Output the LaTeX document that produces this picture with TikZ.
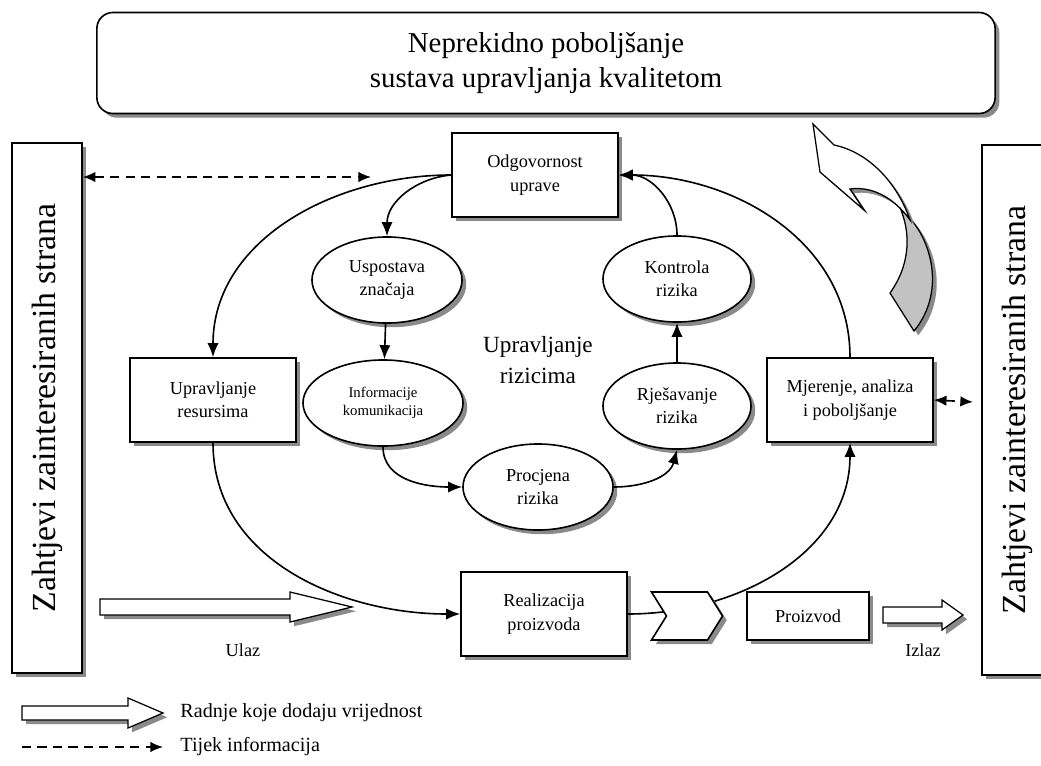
\documentclass[tikz,border=0pt]{standalone}
\usepackage{fontspec}
\setmainfont{Liberation Serif}
\usetikzlibrary{shapes.geometric, shapes.symbols, arrows.meta, shadows}
\definecolor{shadowgray}{HTML}{8A8A8A}
\definecolor{ribbongray}{HTML}{C2C2C2}

\begin{document}
\begin{tikzpicture}[
    x=0.025cm, y=0.025cm,
    line width=1.15pt,
    boxshadow/.style={drop shadow={shadow xshift=3pt, shadow yshift=-3pt, fill=shadowgray, opacity=1}},
    box/.style={draw, fill=white, boxshadow, minimum width=4.15cm, minimum height=2.1cm, align=center, font=\fontsize{13}{16.5}\selectfont},
    oval/.style={ellipse, draw, fill=white, boxshadow, minimum width=3.75cm, minimum height=2.15cm, inner sep=0pt, align=center, font=\fontsize{13}{16.5}\selectfont},
    sidebox/.style={draw, fill=white, boxshadow, minimum width=1.75cm, minimum height=13.25cm, font=\fontsize{24}{28}\selectfont},
    blockarrow/.style={draw, fill=white, line width=0.9pt, boxshadow},
    flow/.style={-{Latex[length=10pt, width=8pt]}},
    infoflow/.style={dash pattern=on 6.5pt off 4.5pt, {Latex[length=9pt, width=7.5pt]}-{Latex[length=9pt, width=7.5pt]}},
    tag/.style={font=\fontsize{13}{16}\selectfont}
]
    \useasboundingbox (0,0) rectangle (1041,-765);

    % Top: continual improvement
    \node[draw, fill=white, boxshadow, rounded corners=0.4cm, minimum width=22.45cm, minimum height=2.525cm,
          align=center, font=\fontsize{20.5}{25}\selectfont] (top) at (546,-63)
          {Neprekidno poboljšanje\\sustava upravljanja kvalitetom};

    % Interested parties
    \node[sidebox] (reqL) at (47,-408) {\rotatebox{90}{Zahtjevi zainteresiranih strana}};
    \node[sidebox] (reqR) at (1017,-410) {\rotatebox{90}{Zahtjevi zainteresiranih strana}};

    % Main process boxes
    \node[box] (odg) at (535,-175) {Odgovornost\\uprave};
    \node[box] (resursi) at (213,-400) {Upravljanje\\resursima};
    \node[box] (mjer) at (850,-400) {Mjerenje, analiza\\i poboljšanje};
    \node[box] (real) at (544,-614) {Realizacija\\proizvoda};
    \node[box, minimum width=3.05cm, minimum height=1.2cm] (proizvod) at (808,-616) {Proizvod};

    % Risk management cycle
    \node[oval] (uspostava) at (387,-280) {Uspostava\\značaja};
    \node[oval, minimum width=4cm, font=\fontsize{10.5}{13}\selectfont] (info) at (383,-403) {Informacije\\komunikacija};
    \node[oval] (procjena) at (538,-487) {Procjena\\rizika};
    \node[oval, minimum width=3.7cm] (rjes) at (677,-406) {Rješavanje\\rizika};
    \node[oval, minimum width=3.7cm] (kontrola) at (677,-279) {Kontrola\\rizika};
    \node[align=center, font=\fontsize{16.5}{22}\selectfont] (rizici) at (538,-360) {Upravljanje\\rizicima};

    % Cycle arrows
    \draw[flow] (uspostava) -- (info);
    \draw[flow] (info.south) to[out=-90, in=180] (procjena.west);
    \draw[flow] (procjena.east) to[out=0, in=-105] (rjes.south);
    \draw[flow] (rjes) -- (kontrola);
    \draw[flow] (kontrola.north) to[out=90, in=0] (odg.east);
    \draw[flow] (odg.west) to[out=185, in=90] (uspostava.north);

    % Process loop
    \draw[flow] (odg.west) to[out=180, in=90] (resursi.north);
    \draw[flow] (resursi.south) to[out=-90, in=180] (real.west);
    \draw[flow] (real.east) to[out=0, in=-90] (mjer.south);
    \draw[flow] (mjer.north) to[out=90, in=0] (odg.east);

    \node[signal, signal from=west, signal to=east, signal pointer angle=116, draw, fill=white, boxshadow,
          minimum width=1.775cm, minimum height=1.2cm, inner sep=0pt] (chev) at (687,-616) {};

    % Information flow
    \coordinate (infoEnd) at (371,-177);
    \coordinate (mjOut) at (973,-402);
    \draw[infoflow] (infoEnd -| reqL.east) -- (infoEnd);
    \draw[infoflow] (mjer.east) -- (mjOut);

    % Input / output
    \draw[blockarrow] (100,-599) -- (290,-599) -- (290,-592) -- (352,-607) -- (290,-622) -- (290,-615) -- (100,-615) -- cycle;
    \draw[blockarrow] (883,-607) -- (942,-607) -- (942,-600) -- (963,-615) -- (942,-630) -- (942,-623) -- (883,-623) -- cycle;
    \node[tag] (ulaz) at (243,-650) {Ulaz};
    \node[tag] (izlaz) at (923,-650) {Izlaz};

    % Improvement ribbon arrow
    \draw[fill=ribbongray, line width=0.9pt, boxshadow] (901,-210) .. controls (930,-232) and (948,-290) .. (914,-331)
        -- (890,-293) .. controls (908,-268) and (912,-238) .. (901,-210) -- cycle;
    \draw[fill=white, line width=0.9pt, boxshadow] (813,-124) -- (834,-145) .. controls (868,-152) and (897,-182) .. (910,-220)
        .. controls (893,-196) and (870,-186) .. (850,-189) -- (864,-210) -- (820,-172) -- cycle;

    % Legend
    \draw[blockarrow] (22,-706) -- (128,-706) -- (128,-698) -- (163,-713) -- (128,-728) -- (128,-720) -- (22,-720) -- cycle;
    \coordinate (legA) at (22,-747);
    \coordinate (legB) at (163,-747);
    \draw[dash pattern=on 6.5pt off 4.5pt, -{Latex[length=9pt, width=7.5pt]}] (legA) -- (legB);
    \node[anchor=west, font=\fontsize{14.3}{17}\selectfont] (legValue) at (175,-713) {Radnje koje dodaju vrijednost};
    \node[anchor=west, font=\fontsize{14.3}{17}\selectfont] (legInfo) at (175,-747) {Tijek informacija};
\end{tikzpicture}
\end{document}
